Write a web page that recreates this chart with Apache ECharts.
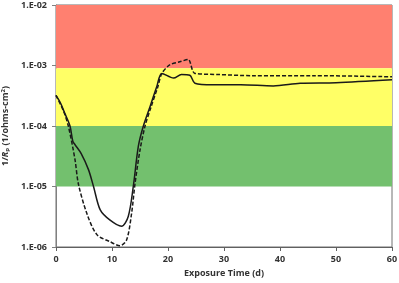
<!DOCTYPE html>
<html><head><meta charset="utf-8">
<script src="https://cdn.jsdelivr.net/npm/echarts@6/dist/echarts.min.js"></script>
<style>html,body{margin:0;padding:0;background:#fff}#c{width:399px;height:283px}</style>
</head><body><div id="c"></div>
<script>
// Exposure time (days) and 1/Rp values
var solidDays = [0, 0.8, 1.6, 2.5, 3.0, 3.4, 4.5, 5.8, 6.7, 7.9, 9.6, 11.7, 12.9, 13.8, 14.7, 15.6, 16.8, 18.0, 18.9, 21, 22.4, 23.9, 24.8, 28, 33, 38.8, 43.6, 50, 60];
var solidVals = [3.2e-4, 2.4e-4, 1.6e-4, 1.0e-4, 5.6e-5, 4.9e-5, 3.5e-5, 1.9e-5, 1.0e-5, 4.1e-6, 2.8e-6, 2.2e-6, 3.2e-6, 1.0e-5, 4.6e-5, 1.0e-4, 2.1e-4, 4.5e-4, 7.4e-4, 6.2e-4, 7.1e-4, 6.9e-4, 5.1e-4, 4.8e-4, 4.8e-4, 4.6e-4, 5.1e-4, 5.2e-4, 5.8e-4];
var dashedDays = [0, 1.3, 2.2, 3.4, 4.0, 5.5, 7.3, 9.6, 11.4, 12.6, 13.5, 14.1, 15.0, 15.9, 17.0, 18.2, 18.9, 20.3, 22.1, 23.6, 24.8, 29, 35, 46, 60];
var dashedVals = [3.2e-4, 1.8e-4, 1.0e-4, 2.75e-5, 1.1e-5, 3.6e-6, 1.6e-6, 1.23e-6, 1.05e-6, 1.3e-6, 3.6e-6, 1.1e-5, 4.0e-5, 1.0e-4, 2.1e-4, 4.5e-4, 7.4e-4, 1.02e-3, 1.15e-3, 1.26e-3, 7.4e-4, 7.1e-4, 6.8e-4, 6.8e-4, 6.5e-4];
// Background bands [from, to]
var bandRed = [9e-4, 1e-2];
var bandYellow = [1e-4, 9e-4];
var bandGreen = [1e-5, 1e-4];
var xTicks = [0, 10, 20, 30, 40, 50, 60];
var yTicks = [1e-6, 1e-5, 1e-4, 1e-3, 1e-2];

function pairs(xs, ys){ return xs.map(function(x,i){ return [x, ys[i]]; }); }
var font = 'Open Sans';
var txt = '#333333';
var chart = echarts.init(document.getElementById('c'), null, {renderer:'canvas'});
chart.setOption({
  animation: false,
  grid: {left: 56, right: 7, top: 5, bottom: 36, containLabel: false, outerBoundsMode: 'none', show: true, borderColor: '#707070', borderWidth: 1, backgroundColor: 'transparent'},
  xAxis: {
    type: 'value', min: xTicks[0], max: xTicks[xTicks.length-1], interval: 10,
    name: 'Exposure Time (d)', nameLocation: 'middle', nameGap: 22,
    nameTextStyle: {fontFamily: font, fontWeight: 'bold', fontSize: 9, color: txt},
    axisLine: {show: true, lineStyle: {color: '#606060', width: 1}},
    axisTick: {show: true, inside: false, length: 4, lineStyle: {color: '#606060'}},
    axisLabel: {fontFamily: font, fontWeight: 'bold', fontSize: 9, color: txt, margin: 8},
    splitLine: {show: false}
  },
  yAxis: {
    type: 'log', logBase: 10, min: yTicks[0], max: yTicks[yTicks.length-1],
    name: '1/{i|R}{sub|p} (1/ohms-cm{sup|2})', nameLocation: 'middle', nameGap: 44,
    nameTextStyle: {fontFamily: font, fontWeight: 'bold', fontSize: 9, color: txt,
      rich: {
        i: {fontFamily: font, fontWeight: 'bold', fontStyle: 'italic', fontSize: 9, color: txt},
        sub: {fontFamily: font, fontWeight: 'bold', fontSize: 6, color: txt, verticalAlign: 'bottom', padding: [4,0,0,0]},
        sup: {fontFamily: font, fontWeight: 'bold', fontSize: 6, color: txt, verticalAlign: 'top', padding: [0,0,4,0]}
      }},
    axisLine: {show: true, lineStyle: {color: '#808080', width: 1}},
    axisTick: {show: true, inside: false, length: 4, lineStyle: {color: '#808080'}},
    axisLabel: {fontFamily: font, fontWeight: 'bold', fontSize: 9, color: txt, margin: 9,
      formatter: function(v){ var e = Math.round(Math.log10(v)); var s = Math.abs(e); return '1.E' + (e<0?'-':'+') + (s<10?'0':'') + s; }},
    splitLine: {show: false}, minorTick: {show: false}
  },
  series: [
    {
      type: 'line', data: [], silent: true,
      markArea: {silent: true, data: [
        [{yAxis: bandRed[0], itemStyle: {color: '#FF8070', opacity: 1}}, {yAxis: bandRed[1]}],
        [{yAxis: bandYellow[0], itemStyle: {color: '#FFFF66', opacity: 1}}, {yAxis: bandYellow[1]}],
        [{yAxis: bandGreen[0], itemStyle: {color: '#73C06E', opacity: 1}}, {yAxis: bandGreen[1]}]
      ]}
    },
    {
      type: 'line', data: pairs(solidDays, solidVals), showSymbol: false, smooth: 0.3,
      lineStyle: {color: '#1a1a1a', width: 1.5}, z: 5
    },
    {
      type: 'line', data: pairs(dashedDays, dashedVals), showSymbol: false, smooth: 0.3,
      lineStyle: {color: '#1a1a1a', width: 1.5, type: [4, 2]}, z: 5
    }
  ]
});
</script></body></html>
